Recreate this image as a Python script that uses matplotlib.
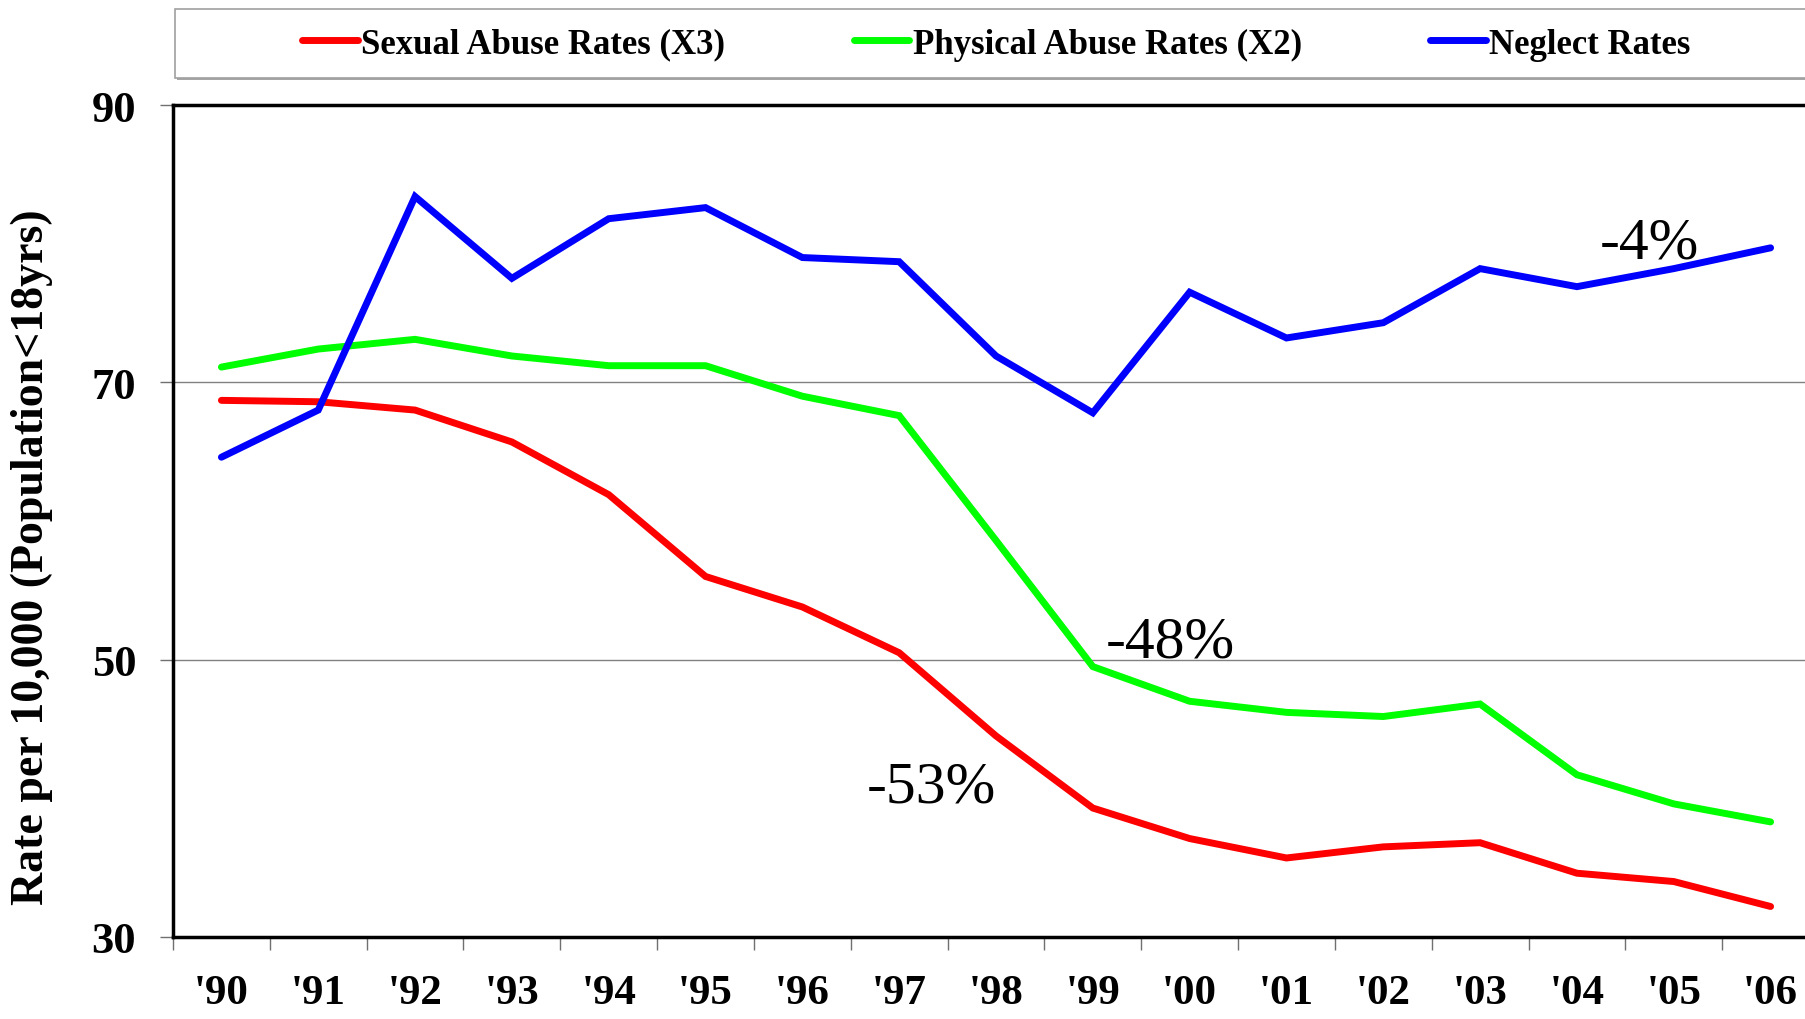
import matplotlib
matplotlib.use('Agg')
import matplotlib.pyplot as plt
from matplotlib.patches import Rectangle
from matplotlib.lines import Line2D
import numpy as np

plt.rcParams['font.family'] = ['Liberation Serif', 'DejaVu Serif']

years = ["'90", "'91", "'92", "'93", "'94", "'95", "'96", "'97", "'98",
         "'99", "'00", "'01", "'02", "'03", "'04", "'05", "'06"]
sexual = [68.7, 68.6, 68.0, 65.7, 61.9, 56.0, 53.8, 50.5, 44.5,
          39.3, 37.1, 35.7, 36.5, 36.8, 34.6, 34.0, 32.2]
physical = [71.1, 72.4, 73.1, 71.9, 71.2, 71.2, 69.0, 67.6, 58.6,
            49.5, 47.0, 46.2, 45.9, 46.8, 41.7, 39.6, 38.3]
neglect = [64.6, 68.0, 83.4, 77.5, 81.8, 82.6, 79.0, 78.7, 71.9,
           67.8, 76.5, 73.2, 74.3, 78.2, 76.9, 78.2, 79.7]
series_names = ['Sexual Abuse Rates (X3)', 'Physical Abuse Rates (X2)', 'Neglect Rates']
series_colors = ['#ff0000', '#00ff00', '#0000ff']
yticks = [30, 50, 70, 90]
notes = [('-53%', 6.66, 39.8), ('-48%', 9.13, 50.2), ('-4%', 14.24, 79.0)]

W, H = 1805, 1020
fig = plt.figure(figsize=(W / 100, H / 100), dpi=100)
# axes runs past the right edge of the picture, like the original
ax = fig.add_axes([173 / W, (H - 938) / H, (1819 - 173) / W, (938 - 106) / H])

x = np.arange(len(years))
for vals, name, col in zip([sexual, physical, neglect], series_names, series_colors):
    ax.plot(x, vals, color=col, lw=5, solid_joinstyle='miter',
            solid_capstyle='round', label=name, zorder=3)

ax.set_xlim(-0.5, len(years) - 0.5)
ax.set_ylim(30, 90)
ax.set_yticks(yticks)
ax.set_yticklabels([str(v) for v in yticks], fontsize=32, fontweight='bold')
ax.tick_params(axis='y', direction='out', length=9.5, width=1, color='#707070', pad=17)

ax.set_xticks(x)
ax.set_xticklabels(years, fontsize=31, fontweight='bold')
ax.set_xticks(np.arange(-0.5, len(years), 1), minor=True)
ax.tick_params(axis='x', which='major', length=0, pad=27)
ax.tick_params(axis='x', which='minor', direction='out', length=9.5, width=1, color='#707070')

for v in [50, 70]:
    ax.axhline(v, color='#808080', lw=1, zorder=1)

for s in ['left', 'bottom', 'top']:
    ax.spines[s].set_linewidth(2.5)
    ax.spines[s].set_color('black')
ax.spines['right'].set_visible(False)

ax.set_ylabel('Rate per 10,000 (Population<18yrs)', fontsize=33, fontweight='bold', va='center')
ax.yaxis.set_label_coords(-0.0857, 0.458)

for txt, tx, ty in notes:
    ax.text(tx, ty, txt, fontsize=43, ha='left', va='baseline', zorder=4)

# legend box
shadow = Rectangle((177 / W, 1 - 81 / H), 1700 / W, 69 / H, transform=fig.transFigure,
                   facecolor='#a6a6a6', edgecolor='none', zorder=0)
box = Rectangle((175 / W, 1 - 79 / H), 1700 / W, 69 / H, transform=fig.transFigure,
                facecolor='white', edgecolor='#a0a0a0', lw=1.2, zorder=1)
fig.patches.extend([shadow, box])

handles = [Line2D([0], [0], color=c, lw=5, solid_capstyle='round') for c in series_colors]
leg = fig.legend(handles, series_names, loc='center left', bbox_to_anchor=(302 / W, 1 - 45 / H),
                 ncol=3, frameon=False, handlelength=1.6, handletextpad=0.1,
                 columnspacing=3.7, borderpad=0, borderaxespad=0,
                 prop={'size': 25, 'weight': 'bold'})

fig.savefig('out.png', dpi=100)
